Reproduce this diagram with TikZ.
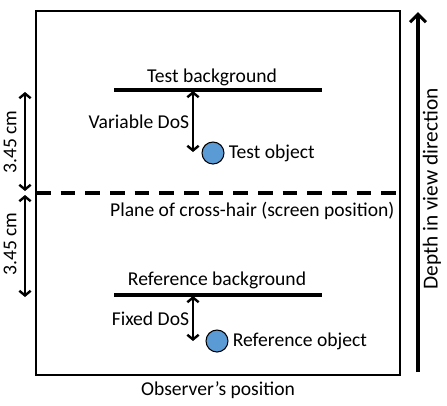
\documentclass[tikz,border=0pt]{standalone}
\usepackage{fontspec}
\setmainfont{Carlito}
\usetikzlibrary{
  arrows.meta,
  positioning,
  calc
}
\definecolor{objblue}{RGB}{91,155,213}
\tikzset{
  lbl/.style={font=\fontsize{14.7}{17}\selectfont,inner sep=1pt},
  biglbl/.style={font=\fontsize{16}{18}\selectfont,inner sep=1pt},
  bgline/.style={line width=2.3pt},
  dimarrow/.style={{Straight Barb[length=3.5pt,width=8.5pt]}-{Straight Barb[length=3.5pt,width=8.5pt]},line width=1.8pt},
  deptharrow/.style={-{Straight Barb[length=6pt,width=12pt]},line width=2.3pt},
  planeline/.style={line width=2.3pt,dash pattern=on 11pt off 7.5pt},
  objdot/.style={circle,draw=black,fill=objblue,line width=0.8pt,minimum size=16.5pt,inner sep=0pt}
}

\begin{document}
\begin{tikzpicture}[x=0.75pt,y=-0.75pt]
  \useasboundingbox (0,0) rectangle (447,405);
  % scene box
  \coordinate (boxnw) at (36,11);
  \coordinate (boxse) at (400,375);
  \draw[line width=0.8pt] (boxnw) rectangle (boxse);

  % test side
  \coordinate (tbl) at (114,90);
  \coordinate (tbr) at (322,90);
  \draw[bgline] (tbl)--(tbr);
  \node[lbl] (tbtext) at (212,77) {Test background};
  \node[objdot] (tobj) at (213,153) {};
  \node[lbl,right=2pt of tobj] (tobjtext) {Test object};
  \coordinate (tdtop) at (193,91);
  \coordinate (tdbot) at (193,152);
  \draw[dimarrow] (tdtop)--node[lbl,left=1pt] (tdostext) {Variable DoS}(tdbot);

  % plane of cross-hair
  \coordinate (pll) at (36,193);
  \coordinate (plr) at (400,193);
  \draw[planeline] (pll)--(plr);
  \node[lbl,anchor=east] (pltext) at (396,211) {Plane of cross-hair (screen position)};

  % reference side
  \coordinate (rbl) at (114,295);
  \coordinate (rbr) at (322,295);
  \draw[bgline] (rbl)--(rbr);
  \node[lbl] (rbtext) at (217,280) {Reference background};
  \node[objdot] (robj) at (217,341) {};
  \node[lbl,right=2pt of robj] (robjtext) {Reference object};
  \coordinate (rdtop) at (193,296);
  \coordinate (rdbot) at (193,341);
  \draw[dimarrow] (rdtop)--node[lbl,left=1pt] (rdostext) {Fixed DoS}(rdbot);

  % distances to the plane
  \coordinate (dua) at (25,92);
  \coordinate (dub) at (25,191);
  \coordinate (dla) at (25,195);
  \coordinate (dlb) at (25,297);
  \draw[dimarrow] (dua)--(dub);
  \draw[dimarrow] (dla)--(dlb);
  \node[lbl,rotate=90] (dutext) at (10,142) {3.45 cm};
  \node[lbl,rotate=90] (dltext) at (10,244) {3.45 cm};

  % depth axis
  \coordinate (dpbot) at (418,372);
  \coordinate (dptop) at (418,12);
  \draw[deptharrow] (dpbot)--(dptop);
  \node[biglbl,rotate=90] (dptext) at (432,189) {Depth in view direction};

  \node[lbl] (obstext) at (218,390) {Observer’s position};
\end{tikzpicture}
\end{document}
